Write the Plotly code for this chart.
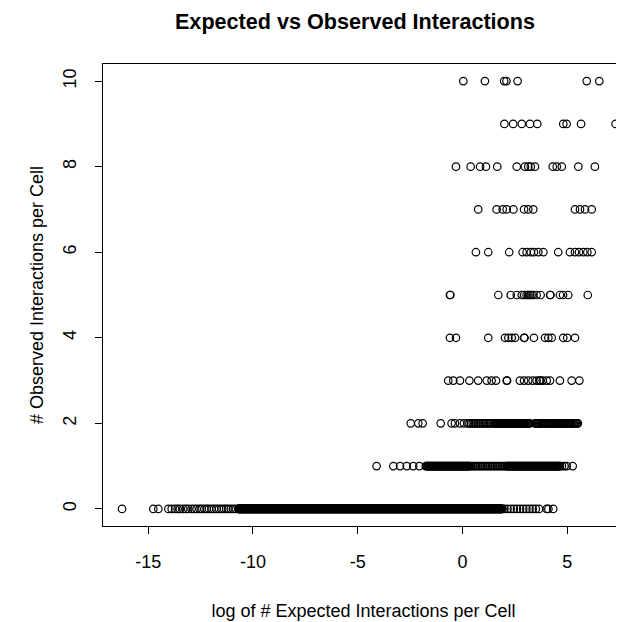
import plotly.graph_objects as go

# ---- data: log expected value (x) for each observed-count row ----
obs_counts = [0, 1, 2, 3, 4, 5, 6, 7, 8, 9, 10]

x_obs0 = [
    -16.25, -14.76, -14.52, -14.04, -13.88, -13.72, -13.60, -13.49, -13.33, -13.20,
    -13.09, -12.93, -12.80, -12.69, -12.55, -12.45, -12.32, -12.21, -12.10, -11.98,
    -11.86, -11.74, -11.62, -11.50, -11.38, -11.28, -11.18, -11.06, -10.94, -10.82,
    -10.70, -10.65, -10.60, -10.55, -10.50, -10.45, -10.40, -10.35, -10.30, -10.25,
    -10.20, -10.15, -10.10, -10.05, -10.00, -9.95, -9.90, -9.85, -9.80, -9.75,
    -9.70, -9.65, -9.60, -9.55, -9.50, -9.45, -9.40, -9.35, -9.30, -9.25,
    -9.20, -9.15, -9.10, -9.05, -9.00, -8.95, -8.90, -8.85, -8.80, -8.75,
    -8.70, -8.65, -8.60, -8.55, -8.50, -8.45, -8.40, -8.35, -8.30, -8.25,
    -8.20, -8.15, -8.10, -8.05, -8.00, -7.95, -7.90, -7.85, -7.80, -7.75,
    -7.70, -7.65, -7.60, -7.55, -7.50, -7.45, -7.40, -7.35, -7.30, -7.25,
    -7.20, -7.15, -7.10, -7.05, -7.00, -6.95, -6.90, -6.85, -6.80, -6.75,
    -6.70, -6.65, -6.60, -6.55, -6.50, -6.45, -6.40, -6.35, -6.30, -6.25,
    -6.20, -6.15, -6.10, -6.05, -6.00, -5.95, -5.90, -5.85, -5.80, -5.75,
    -5.70, -5.65, -5.60, -5.55, -5.50, -5.45, -5.40, -5.35, -5.30, -5.25,
    -5.20, -5.15, -5.10, -5.05, -5.00, -4.95, -4.90, -4.85, -4.80, -4.75,
    -4.70, -4.65, -4.60, -4.55, -4.50, -4.45, -4.40, -4.35, -4.30, -4.25,
    -4.20, -4.15, -4.10, -4.05, -4.00, -3.95, -3.90, -3.85, -3.80, -3.75,
    -3.70, -3.65, -3.60, -3.55, -3.50, -3.45, -3.40, -3.35, -3.30, -3.25,
    -3.20, -3.15, -3.10, -3.05, -3.00, -2.95, -2.90, -2.85, -2.80, -2.75,
    -2.70, -2.65, -2.60, -2.55, -2.50, -2.45, -2.40, -2.35, -2.30, -2.25,
    -2.20, -2.15, -2.10, -2.05, -2.00, -1.95, -1.90, -1.85, -1.80, -1.75,
    -1.70, -1.65, -1.60, -1.55, -1.50, -1.45, -1.40, -1.35, -1.30, -1.25,
    -1.20, -1.15, -1.10, -1.05, -1.00, -0.95, -0.90, -0.85, -0.80, -0.75,
    -0.70, -0.65, -0.60, -0.55, -0.50, -0.45, -0.40, -0.35, -0.30, -0.25,
    -0.20, -0.15, -0.10, -0.05, 0.00, 0.05, 0.10, 0.15, 0.20, 0.25,
    0.30, 0.35, 0.40, 0.45, 0.50, 0.55, 0.60, 0.65, 0.70, 0.75,
    0.80, 0.85, 0.90, 0.95, 1.00, 1.05, 1.10, 1.15, 1.20, 1.25,
    1.30, 1.35, 1.40, 1.45, 1.50, 1.55, 1.60, 1.65, 1.70, 1.75,
    1.80, 1.85, 1.90, 2.00, 2.15, 2.30, 2.45, 2.60, 2.75, 2.90,
    3.05, 3.20, 3.35, 3.50, 3.65, 4.02, 4.10, 4.33,
]

# further zero-count cells inside the solid band
x_obs0_band = [
    -10.675, -10.625, -10.575, -10.525, -10.475, -10.425, -10.375, -10.325, -10.275, -10.225,
    -10.175, -10.125, -10.075, -10.025, -9.975, -9.925, -9.875, -9.825, -9.775, -9.725,
    -9.675, -9.625, -9.575, -9.525, -9.475, -9.425, -9.375, -9.325, -9.275, -9.225,
    -9.175, -9.125, -9.075, -9.025, -8.975, -8.925, -8.875, -8.825, -8.775, -8.725,
    -8.675, -8.625, -8.575, -8.525, -8.475, -8.425, -8.375, -8.325, -8.275, -8.225,
    -8.175, -8.125, -8.075, -8.025, -7.975, -7.925, -7.875, -7.825, -7.775, -7.725,
    -7.675, -7.625, -7.575, -7.525, -7.475, -7.425, -7.375, -7.325, -7.275, -7.225,
    -7.175, -7.125, -7.075, -7.025, -6.975, -6.925, -6.875, -6.825, -6.775, -6.725,
    -6.675, -6.625, -6.575, -6.525, -6.475, -6.425, -6.375, -6.325, -6.275, -6.225,
    -6.175, -6.125, -6.075, -6.025, -5.975, -5.925, -5.875, -5.825, -5.775, -5.725,
    -5.675, -5.625, -5.575, -5.525, -5.475, -5.425, -5.375, -5.325, -5.275, -5.225,
    -5.175, -5.125, -5.075, -5.025, -4.975, -4.925, -4.875, -4.825, -4.775, -4.725,
    -4.675, -4.625, -4.575, -4.525, -4.475, -4.425, -4.375, -4.325, -4.275, -4.225,
    -4.175, -4.125, -4.075, -4.025, -3.975, -3.925, -3.875, -3.825, -3.775, -3.725,
    -3.675, -3.625, -3.575, -3.525, -3.475, -3.425, -3.375, -3.325, -3.275, -3.225,
    -3.175, -3.125, -3.075, -3.025, -2.975, -2.925, -2.875, -2.825, -2.775, -2.725,
    -2.675, -2.625, -2.575, -2.525, -2.475, -2.425, -2.375, -2.325, -2.275, -2.225,
    -2.175, -2.125, -2.075, -2.025, -1.975, -1.925, -1.875, -1.825, -1.775, -1.725,
    -1.675, -1.625, -1.575, -1.525, -1.475, -1.425, -1.375, -1.325, -1.275, -1.225,
    -1.175, -1.125, -1.075, -1.025, -0.975, -0.925, -0.875, -0.825, -0.775, -0.725,
    -0.675, -0.625, -0.575, -0.525, -0.475, -0.425, -0.375, -0.325, -0.275, -0.225,
    -0.175, -0.125, -0.075, -0.025, 0.025, 0.075, 0.125, 0.175, 0.225, 0.275,
    0.325, 0.375, 0.425, 0.475, 0.525, 0.575, 0.625, 0.675, 0.725, 0.775,
    0.825, 0.875, 0.925, 0.975, 1.025, 1.075, 1.125, 1.175, 1.225, 1.275,
    1.325, 1.375, 1.425, 1.475, 1.525, 1.575, 1.625, 1.675, 1.725, 1.775,
    1.825, 1.875,
]

x_obs0_band2 = [
    -10.6875, -10.6375, -10.5875, -10.5375, -10.4875, -10.4375, -10.3875, -10.3375,
    -10.2875, -10.2375, -10.1875, -10.1375, -10.0875, -10.0375,
    -9.9875, -9.9375, -9.8875, -9.8375, -9.7875, -9.7375, -9.6875, -9.6375, -9.5875, -9.5375,
    -9.4875, -9.4375, -9.3875, -9.3375, -9.2875, -9.2375, -9.1875, -9.1375, -9.0875, -9.0375,
    -8.9875, -8.9375, -8.8875, -8.8375, -8.7875, -8.7375, -8.6875, -8.6375, -8.5875, -8.5375,
    -8.4875, -8.4375, -8.3875, -8.3375, -8.2875, -8.2375, -8.1875, -8.1375, -8.0875, -8.0375,
    -7.9875, -7.9375, -7.8875, -7.8375, -7.7875, -7.7375, -7.6875, -7.6375, -7.5875, -7.5375,
    -7.4875, -7.4375, -7.3875, -7.3375, -7.2875, -7.2375, -7.1875, -7.1375, -7.0875, -7.0375,
    -6.9875, -6.9375, -6.8875, -6.8375, -6.7875, -6.7375, -6.6875, -6.6375, -6.5875, -6.5375,
    -6.4875, -6.4375, -6.3875, -6.3375, -6.2875, -6.2375, -6.1875, -6.1375, -6.0875, -6.0375,
    -5.9875, -5.9375, -5.8875, -5.8375, -5.7875, -5.7375, -5.6875, -5.6375, -5.5875, -5.5375,
    -5.4875, -5.4375, -5.3875, -5.3375, -5.2875, -5.2375, -5.1875, -5.1375, -5.0875, -5.0375,
    -4.9875, -4.9375, -4.8875, -4.8375, -4.7875, -4.7375, -4.6875, -4.6375, -4.5875, -4.5375,
    -4.4875, -4.4375, -4.3875, -4.3375, -4.2875, -4.2375, -4.1875, -4.1375, -4.0875, -4.0375,
    -3.9875, -3.9375, -3.8875, -3.8375, -3.7875, -3.7375, -3.6875, -3.6375, -3.5875, -3.5375,
    -3.4875, -3.4375, -3.3875, -3.3375, -3.2875, -3.2375, -3.1875, -3.1375, -3.0875, -3.0375,
    -2.9875, -2.9375, -2.8875, -2.8375, -2.7875, -2.7375, -2.6875, -2.6375, -2.5875, -2.5375,
    -2.4875, -2.4375, -2.3875, -2.3375, -2.2875, -2.2375, -2.1875, -2.1375, -2.0875, -2.0375,
    -1.9875, -1.9375, -1.8875, -1.8375, -1.7875, -1.7375, -1.6875, -1.6375, -1.5875, -1.5375,
    -1.4875, -1.4375, -1.3875, -1.3375, -1.2875, -1.2375, -1.1875, -1.1375, -1.0875, -1.0375,
    -0.9875, -0.9375, -0.8875, -0.8375, -0.7875, -0.7375, -0.6875, -0.6375, -0.5875, -0.5375,
    -0.4875, -0.4375, -0.3875, -0.3375, -0.2875, -0.2375, -0.1875, -0.1375, -0.0875, -0.0375,
    0.0125, 0.0625, 0.1125, 0.1625, 0.2125, 0.2625, 0.3125, 0.3625, 0.4125, 0.4625,
    0.5125, 0.5625, 0.6125, 0.6625, 0.7125, 0.7625, 0.8125, 0.8625, 0.9125, 0.9625,
    1.0125, 1.0625, 1.1125, 1.1625, 1.2125, 1.2625, 1.3125, 1.3625, 1.4125, 1.4625,
    1.5125, 1.5625, 1.6125, 1.6625, 1.7125, 1.7625, 1.8125, 1.8625,
]

x_obs1 = [
    -4.10, -3.30, -2.98, -2.66, -2.35, -2.06,
    -1.750, -1.715, -1.680, -1.645, -1.610, -1.575, -1.540, -1.505, -1.470, -1.435,
    -1.400, -1.365, -1.330, -1.295, -1.260, -1.225, -1.190, -1.155, -1.120, -1.085,
    -1.050, -1.015, -0.980, -0.945, -0.910, -0.875, -0.840, -0.805, -0.770, -0.735,
    -0.700, -0.665, -0.630, -0.595, -0.560, -0.525, -0.490, -0.455, -0.420, -0.385,
    -0.350, -0.315, -0.280, -0.245, -0.210, -0.175, -0.140, -0.105, -0.070, -0.035,
    0.000, 0.035, 0.070, 0.105, 0.140, 0.175, 0.210, 0.245, 0.280, 0.315, 0.350,
    0.43, 0.51, 0.59, 0.67, 0.75, 0.83, 0.91, 0.99, 1.07, 1.15, 1.23, 1.31,
    1.39, 1.47, 1.55, 1.63, 1.71, 1.79, 1.87, 1.95, 2.03,
    2.100, 2.135, 2.170, 2.205, 2.240, 2.275, 2.310, 2.345, 2.380, 2.415,
    2.450, 2.485, 2.520, 2.555, 2.590, 2.625, 2.660, 2.695, 2.730, 2.765,
    2.800, 2.835, 2.870, 2.905, 2.940, 2.975, 3.010, 3.045, 3.080, 3.115,
    3.150, 3.185, 3.220, 3.255, 3.290, 3.325, 3.360, 3.395, 3.430, 3.465,
    3.500, 3.535, 3.570, 3.605, 3.640, 3.675, 3.710, 3.745, 3.780, 3.815,
    3.850, 3.885, 3.920, 3.955, 3.990, 4.025, 4.060, 4.095, 4.130, 4.165,
    4.200, 4.235, 4.270, 4.305, 4.340, 4.375, 4.410, 4.445, 4.480, 4.515,
    4.550, 4.585, 4.620, 4.655,
    4.75, 4.87, 4.98, 5.26,
]

x_obs2 = [
    -2.47, -2.11, -1.90, -1.04, -0.52, -0.36, -0.12, 0.07,
    0.25, 0.33, 0.41, 0.49, 0.57, 0.65, 0.73, 0.81, 0.89, 0.97,
    1.05, 1.13, 1.21, 1.29, 1.37, 1.45,
    1.53, 1.57, 1.61, 1.65, 1.69, 1.73, 1.77, 1.81, 1.85, 1.89,
    1.93, 1.97, 2.01, 2.05, 2.09, 2.13, 2.17, 2.21, 2.25, 2.29,
    2.33, 2.37, 2.41, 2.45, 2.49, 2.53, 2.57, 2.61, 2.65, 2.69,
    2.73, 2.77, 2.81, 2.85, 2.89, 2.93, 2.97, 3.01, 3.05, 3.09,
    3.13, 3.17, 3.21,
    3.46, 3.51, 3.56, 3.61, 3.66, 3.71, 3.76, 3.81, 3.86, 3.91,
    3.96, 4.01, 4.06, 4.11, 4.16, 4.21, 4.26, 4.31, 4.36, 4.41,
    4.46, 4.51, 4.56, 4.61, 4.66, 4.71, 4.76, 4.81, 4.86, 4.91,
    4.96, 5.01, 5.06, 5.11, 5.16, 5.21, 5.26, 5.31, 5.36, 5.41,
    5.46, 5.51,
]

x_obs3 = [-0.68, -0.44, -0.12, 0.33, 0.75, 1.16, 1.39, 1.60, 2.11, 2.13,
          2.74, 2.94, 3.14, 3.35, 3.54, 3.67, 3.73, 3.83, 4.02, 4.18,
          4.65, 5.21, 5.58]

x_obs4 = [-0.60, -0.31, 1.23, 2.03, 2.19, 2.35, 2.51, 2.94, 2.96, 3.41,
          3.94, 4.10, 4.26, 4.81, 5.00, 5.37]

x_obs5 = [-0.60, -0.58, 1.71, 2.30, 2.59, 2.83, 2.95, 3.06, 3.14, 3.22,
          3.30, 3.38, 3.54, 3.73, 4.18, 4.20, 4.65, 4.80, 5.05, 5.98]

x_obs6 = [0.64, 1.23, 2.23, 2.87, 3.06, 3.26, 3.41, 3.62, 3.86, 4.57,
          5.13, 5.37, 5.56, 5.77, 5.96, 6.17]

x_obs7 = [0.75, 1.63, 1.92, 2.11, 2.43, 2.94, 3.14, 3.38, 5.37, 5.61, 5.85, 6.17]

x_obs8 = [-0.31, 0.39, 0.84, 1.12, 1.66, 2.59, 2.98, 3.14, 3.26, 3.46,
          4.31, 4.50, 4.74, 5.53, 6.32]

x_obs9 = [2.00, 2.42, 2.83, 3.22, 3.57, 4.81, 4.97, 5.66, 7.31]

x_obs10 = [0.04, 1.07, 1.99, 2.10, 2.63, 5.93, 6.53]

x_tick_vals = [-15, -10, -5, 0, 5]
x_tick_text = ["-15", "-10", "-5", "0", "5"]
y_tick_vals = [0, 2, 4, 6, 8, 10]
y_tick_text = ["0", "2", "4", "6", "8", "10"]

title_text = "Expected vs Observed Interactions"
x_title = "log of # Expected Interactions per Cell"
y_title = "# Observed Interactions per Cell"

# ---- build table ----
rows = [x_obs0 + x_obs0_band + x_obs0_band2, x_obs1, x_obs2, x_obs3, x_obs4, x_obs5,
        x_obs6, x_obs7, x_obs8, x_obs9, x_obs10]
xs, ys = [], []
for count, row in zip(obs_counts, rows):
    xs.extend(row)
    ys.extend([count] * len(row))

FONT = "Liberation Sans, Arial, Helvetica, sans-serif"

# page body has an 8px margin, so the figure is sized to end at the window edge
W, H = 616, 614

fig = go.Figure(go.Scatter(
    x=xs, y=ys, mode="markers",
    marker=dict(symbol="circle-open", size=7.5, color="black",
                line=dict(width=1.2, color="black")),
    hoverinfo="skip", cliponaxis=False,
))

fig.update_layout(
    width=W, height=H,
    margin=dict(l=95, r=0, t=56, b=96, autoexpand=False),
    paper_bgcolor="white", plot_bgcolor="white",
    showlegend=False,
    font=dict(family=FONT, size=18, color="black"),
    title=dict(text="<b>" + title_text + "</b>", x=347 / W, xanchor="center",
               xref="container", y=1 - 13 / H, yanchor="middle", yref="container",
               font=dict(family=FONT, size=21.6, color="black")),
)

fig.update_xaxes(
    range=[-17.16, 7.71], tickmode="array", tickvals=x_tick_vals, ticktext=x_tick_text,
    ticks="outside", ticklen=7, tickwidth=1, tickcolor="black",
    showline=True, linecolor="black", linewidth=1, mirror=True,
    showgrid=False, zeroline=False, ticklabelstandoff=12, automargin=False,
    title=dict(text=x_title, standoff=33, font=dict(size=18)),
)
fig.update_yaxes(
    range=[-0.4, 10.4], tickmode="array", tickvals=y_tick_vals, ticktext=y_tick_text,
    ticks="outside", ticklen=7, tickwidth=1, tickcolor="black", tickangle=-90,
    showline=True, linecolor="black", linewidth=1, mirror=False,
    showgrid=False, zeroline=False, ticklabelstandoff=12, automargin=False,
    title=dict(text=y_title, standoff=11, font=dict(size=18)),
)

fig.write_html("out.html")
